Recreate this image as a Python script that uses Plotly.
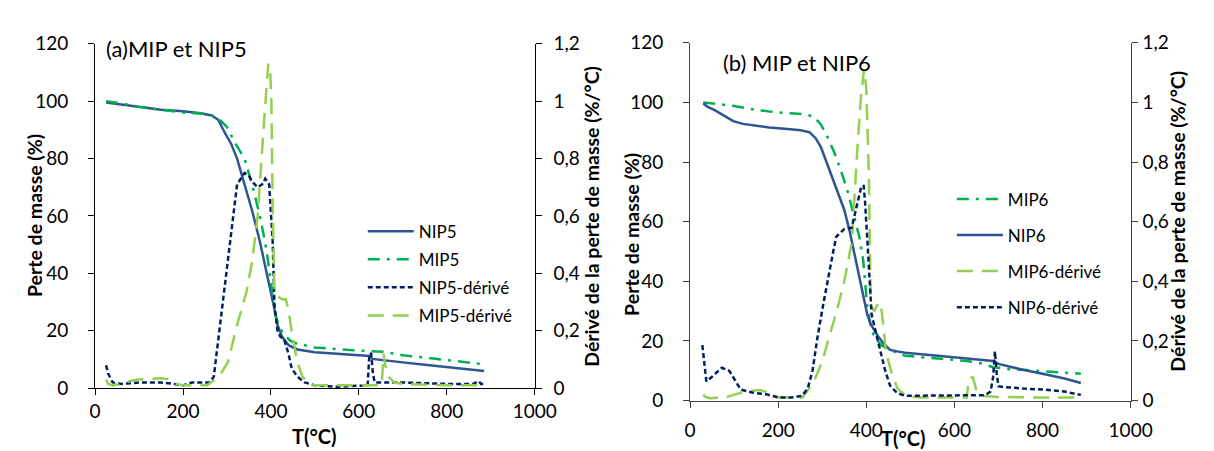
import plotly.graph_objects as go

# ---------------- Panel (a) data ----------------
T_nip5 = [25, 50, 100, 150, 200, 240, 265, 280, 295, 310, 323, 340, 357, 375, 391, 406, 415, 425, 440, 460, 500, 550, 600, 625, 630, 650, 700, 750, 800, 850, 885]
NIP5 = [99.5, 99, 98, 97, 96.5, 95.8, 95, 93.5, 89, 85, 80, 71, 62, 51, 40, 29, 22, 18, 15, 13.5, 12.5, 12, 11.5, 11.2, 10.2, 9.8, 9, 8.2, 7.4, 6.6, 6]

T_mip5 = [25, 60, 100, 150, 200, 260, 280, 300, 320, 340, 357, 375, 390, 400, 408, 417, 430, 445, 460, 500, 579, 655, 700, 800, 885]
MIP5 = [100, 99.2, 98, 97, 96, 95.5, 94, 91, 85, 80, 71, 60, 48, 37, 27, 22, 18.5, 16.5, 15.5, 14.2, 13.3, 12.7, 11.5, 9.8, 8.3]

T_nip5d = [25, 30, 40, 60, 100, 150, 180, 200, 220, 260, 270, 281, 290, 306, 323, 340, 350, 357, 370, 380, 387, 396, 404, 408, 415, 421, 430, 440, 447, 460, 477, 500, 550, 620, 624, 628, 632, 636, 650, 700, 800, 860, 872, 878, 885]
NIP5_d = [0.08, 0.05, 0.02, 0.015, 0.02, 0.02, 0.015, 0.01, 0.02, 0.02, 0.04, 0.18, 0.3, 0.51, 0.71, 0.75, 0.74, 0.72, 0.70, 0.71, 0.73, 0.71, 0.51, 0.29, 0.2, 0.18, 0.17, 0.12, 0.07, 0.04, 0.02, 0.01, 0.005, 0.01, 0.12, 0.12, 0.05, 0.02, 0.02, 0.02, 0.015, 0.015, 0.025, 0.015, 0.015]

T_mip5d = [25, 30, 40, 60, 80, 100, 150, 175, 185, 200, 255, 272, 290, 302, 323, 345, 357, 370, 383, 390, 394, 398, 401, 404, 408, 415, 425, 434, 440, 447, 460, 472, 485, 500, 600, 652, 656, 660, 668, 680, 700, 800, 885]
MIP5_d = [0.03, 0.015, 0.01, 0.015, 0.025, 0.03, 0.035, 0.03, 0.015, 0.01, 0.01, 0.03, 0.06, 0.09, 0.22, 0.34, 0.44, 0.6, 0.9, 1.05, 1.13, 1.12, 1.0, 0.62, 0.34, 0.32, 0.31, 0.31, 0.27, 0.2, 0.09, 0.04, 0.02, 0.01, 0.01, 0.01, 0.12, 0.08, 0.04, 0.02, 0.015, 0.01, 0.01]

# ---------------- Panel (b) data ----------------
T_mip6 = [30, 60, 100, 150, 200, 228, 260, 280, 297, 310, 328, 345, 358, 372, 384, 393, 402, 410, 419, 435, 454, 488, 550, 627, 660, 688, 720, 800, 887]
MIP6 = [100, 99.5, 98.8, 97.5, 96.6, 96.4, 96, 95.3, 92.6, 89, 83, 76, 70, 62, 55, 47, 32, 25, 21, 18.5, 17, 15, 14.2, 13.3, 12.5, 11.2, 10.6, 9.8, 9]

T_nip6 = [30, 40, 55, 72, 85, 98, 120, 141, 180, 228, 250, 271, 285, 297, 310, 323, 337, 350, 362, 375, 388, 402, 410, 420, 428, 440, 454, 470, 488, 550, 620, 688, 700, 750, 800, 850, 887]
NIP6 = [99.6, 98.5, 97.5, 96, 94.8, 93.7, 92.8, 92.4, 91.6, 91, 90.7, 90, 88, 85, 80, 74.5, 69, 64, 57, 48, 38, 29, 25.6, 23, 21.3, 19, 17, 16.5, 16, 15.2, 14.3, 13.3, 12.3, 10.5, 9, 7.4, 5.9]

T_mip6d = [30, 35, 45, 80, 100, 133, 160, 180, 200, 255, 280, 300, 315, 333, 350, 367, 380, 388, 395, 400, 406, 410, 418, 428, 435, 445, 458, 471, 490, 520, 628, 633, 642, 650, 665, 700, 800, 887]
MIP6_d = [0.02, 0.012, 0.008, 0.01, 0.02, 0.032, 0.035, 0.025, 0.01, 0.01, 0.06, 0.13, 0.21, 0.3, 0.4, 0.53, 0.85, 1.02, 1.11, 1.05, 0.75, 0.32, 0.3, 0.33, 0.3, 0.16, 0.09, 0.04, 0.015, 0.01, 0.01, 0.075, 0.078, 0.035, 0.015, 0.012, 0.01, 0.01]

T_nip6d = [28, 32, 37, 50, 72, 89, 102, 115, 141, 176, 202, 230, 254, 267, 278, 289, 302, 315, 325, 332, 350, 367, 375, 382, 389, 394, 397, 402, 406, 412, 423, 432, 443, 454, 470, 488, 550, 640, 670, 682, 688, 692, 696, 700, 714, 760, 800, 850, 887]
NIP6_d = [0.186, 0.12, 0.064, 0.08, 0.11, 0.10, 0.07, 0.037, 0.027, 0.02, 0.01, 0.01, 0.016, 0.04, 0.1, 0.21, 0.32, 0.43, 0.5, 0.55, 0.575, 0.58, 0.63, 0.68, 0.72, 0.72, 0.67, 0.55, 0.43, 0.29, 0.22, 0.17, 0.1, 0.05, 0.025, 0.016, 0.016, 0.017, 0.018, 0.03, 0.08, 0.165, 0.09, 0.048, 0.045, 0.04, 0.037, 0.03, 0.019]

# ticks
x_ticks = [0, 200, 400, 600, 800, 1000]
y_ticks = [0, 20, 40, 60, 80, 100, 120]
d_ticks = [0, 0.2, 0.4, 0.6, 0.8, 1.0, 1.2]
d_tick_text = ["0", "0,2", "0,4", "0,6", "0,8", "1", "1,2"]

# texts
X_TITLE = "T(°C)"
Y_TITLE = "Perte de masse (%)"
Y2_TITLE = "Dérivé de la perte de masse (%/°C)"

C_NIP = "#2E5590"
C_NIPD = "#002060"
C_MIP = "#00B050"
C_MIPD = "#92D050"
LW = 2.5
FONT = "Lato"

fig = go.Figure()

def add(x, y, name, color, dash, xa, ya, legend):
    fig.add_trace(go.Scatter(
        x=x, y=y, name=name, mode="lines",
        line=dict(color=color, width=LW, dash=dash),
        xaxis=xa, yaxis=ya, legend=legend, legendgroup=name + legend,
    ))

DASHDOT = "12px,7px,3px,7px"
LONGDASH = "16px,9px"
SHORTDASH = "5px,3px"

# Panel (a)
add(T_nip5, NIP5, "NIP5", C_NIP, "solid", "x", "y", "legend")
add(T_mip5, MIP5, "MIP5", C_MIP, DASHDOT, "x", "y", "legend")
add(T_nip5d, NIP5_d, "NIP5-dérivé", C_NIPD, SHORTDASH, "x", "y2", "legend")
add(T_mip5d, MIP5_d, "MIP5-dérivé", C_MIPD, LONGDASH, "x", "y2", "legend")

# Panel (b)
add(T_mip6, MIP6, "MIP6", C_MIP, DASHDOT, "x2", "y3", "legend2")
add(T_nip6, NIP6, "NIP6", C_NIP, "solid", "x2", "y3", "legend2")
add(T_mip6d, MIP6_d, "MIP6-dérivé", C_MIPD, LONGDASH, "x2", "y4", "legend2")
add(T_nip6d, NIP6_d, "NIP6-dérivé", C_NIPD, SHORTDASH, "x2", "y4", "legend2")

W, H = 1214, 451
def px_x(p):
    return p / W
def px_y(p):
    return 1 - p / H

tickfont = dict(family=FONT, size=19, color="#000000")

def xaxis(domain, anchor, col, standoff):
    return dict(domain=domain, anchor=anchor, range=[0, 1000], tickvals=x_ticks,
                showgrid=False, zeroline=False, showline=True, linecolor=col, linewidth=1,
                ticks="outside", ticklen=6, tickcolor=col, tickfont=tickfont,
                ticklabelstandoff=standoff)

def yaxis(domain, anchor, col, standoff):
    return dict(domain=domain, anchor=anchor, range=[0, 120], tickvals=y_ticks,
                showgrid=False, zeroline=False, showline=True, linecolor=col, linewidth=1,
                ticks="outside", ticklen=6, tickcolor=col, tickfont=tickfont,
                ticklabelstandoff=standoff)

def yaxis_r(overlay, anchor, col, standoff):
    return dict(overlaying=overlay, anchor=anchor, side="right", range=[0, 1.2],
                tickvals=d_ticks, ticktext=d_tick_text,
                showgrid=False, zeroline=False, showline=True, linecolor=col, linewidth=1,
                ticks="outside", ticklen=6, tickcolor=col, tickfont=tickfont,
                ticklabelstandoff=standoff)

left_x = [px_x(83), px_x(533)]
left_y = [px_y(388), px_y(25)]
right_x = [px_x(692), px_x(1143)]
right_y = [px_y(401), px_y(24)]

def label(text, x, y, size, bold=False, angle=0, xanchor="center"):
    return dict(text=f"<b>{text}</b>" if bold else text, x=px_x(x), y=px_y(y),
                xref="paper", yref="paper", xanchor=xanchor, yanchor="middle",
                showarrow=False, textangle=angle,
                font=dict(family=FONT, size=size, color="#000000"))

fig.update_layout(
    width=W, height=H,
    margin=dict(l=0, r=0, t=0, b=0),
    paper_bgcolor="white", plot_bgcolor="white",
    font=dict(family=FONT, size=17, color="#000000"),
    xaxis=xaxis(left_x, "y", "#000000", 0),
    yaxis=yaxis(left_y, "x", "#000000", 16),
    yaxis2=yaxis_r("y", "x", "#000000", 8),
    xaxis2=xaxis(right_x, "y3", "#404040", 7),
    yaxis3=yaxis(right_y, "x2", "#404040", 16),
    yaxis4=yaxis_r("y3", "x2", "#404040", 1),
    legend=dict(x=px_x(357), y=px_y(204), xanchor="left", yanchor="top",
                bgcolor="rgba(0,0,0,0)", font=dict(family=FONT, size=17),
                itemwidth=46, traceorder="grouped", tracegroupgap=3),
    legend2=dict(x=px_x(960), y=px_y(170), xanchor="left", yanchor="top",
                 bgcolor="rgba(0,0,0,0)", font=dict(family=FONT, size=17),
                 itemwidth=46, traceorder="grouped", tracegroupgap=11),
    annotations=[
        label("(a)MIP et NIP5", 92, 30, 22, xanchor="left"),
        label("(b) MIP et NIP6", 724, 45, 22, xanchor="left"),
        label(X_TITLE, 308, 438, 20, bold=True),
        label(X_TITLE, 910, 440, 20, bold=True),
        label(Y_TITLE, 21, 206, 19.5, bold=True, angle=-90),
        label(Y_TITLE, 632, 226, 19.5, bold=True, angle=-90),
        label(Y2_TITLE, 591, 207, 19.5, bold=True, angle=-90),
        label(Y2_TITLE, 1191, 212, 19.5, bold=True, angle=-90),
    ],
)

fig.write_html("out.html")
